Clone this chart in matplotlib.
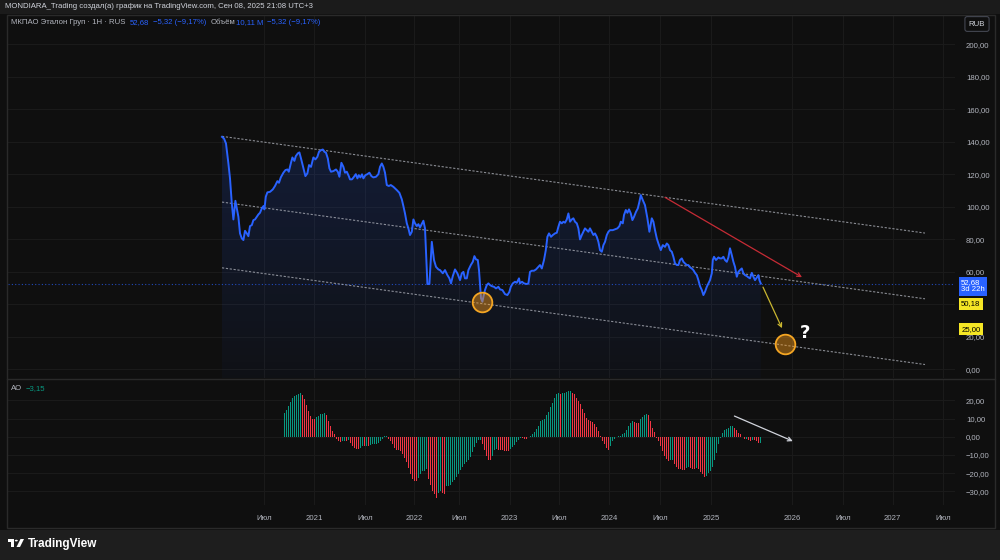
import numpy as np
import matplotlib.pyplot as plt
from matplotlib import transforms
from matplotlib.patches import Rectangle, Polygon, Circle
from matplotlib.lines import Line2D

plt.rcParams['font.family'] = ['Liberation Sans', 'DejaVu Sans']

# x axis = weekly bar index (bar 0 = first bar on the chart)
price_x = [
    0.0, 1.0, 2.0, 3.2, 4.0, 4.9, 5.7, 6.2, 6.7, 7.4,
    8.2, 9.0, 9.9, 10.7, 11.5, 12.4, 13.2, 14.0, 14.9, 15.7,
    16.5, 17.4, 18.2, 19.0, 19.9, 20.7, 21.2, 21.9, 22.7, 24.0,
    25.4, 26.5, 27.7, 28.5, 29.4, 30.7, 31.7, 32.7, 33.4, 34.4,
    35.2, 36.2, 36.9, 37.9, 38.7, 39.5, 40.7, 41.7, 42.7, 43.5,
    44.5, 45.7, 46.7, 47.7, 48.5, 49.5, 50.4, 51.2, 52.0, 52.9,
    53.7, 54.5, 55.7, 57.0, 57.9, 58.7, 59.7, 60.7, 61.5, 62.4,
    63.4, 64.0, 65.0, 66.0, 66.9, 67.7, 68.4, 69.2, 70.0, 70.7,
    71.7, 72.7, 73.7, 74.7, 75.7, 77.0, 78.2, 79.0, 79.9, 80.7,
    81.5, 82.4, 83.4, 84.4, 85.7, 87.4, 88.7, 89.9, 90.7, 91.5,
    92.4, 93.2, 94.0, 94.9, 95.7, 96.5, 97.4, 98.2, 99.0, 100.7,
    101.5, 102.7, 103.7, 104.9, 106.0, 107.0, 108.2, 109.0, 110.4, 111.5,
    112.7, 113.7, 114.5, 115.4, 116.5, 117.7, 119.0, 119.9, 120.7, 121.5,
    122.4, 123.2, 124.4, 125.4, 126.2, 127.0, 127.9, 128.5, 129.0, 129.5,
    130.2, 130.7, 131.5, 132.4, 133.2, 134.0, 134.9, 136.0, 137.0, 138.2,
    139.0, 140.2, 141.5, 142.7, 143.7, 144.4, 145.4, 146.5, 147.4, 148.5,
    149.0, 150.0, 151.0, 152.4, 153.2, 154.0, 154.9, 156.0, 157.0, 158.2,
    159.0, 159.9, 161.0, 161.9, 162.7, 163.5, 164.5, 165.4, 166.5, 167.4,
    168.2, 169.0, 169.9, 170.7, 171.5, 172.4, 173.2, 174.0, 174.9, 175.7,
    176.5, 177.4, 178.2, 179.0, 179.9, 180.7, 181.5, 182.4, 183.2, 184.0,
    184.9, 185.7, 186.5, 187.4, 188.2, 189.0, 189.9, 190.7, 191.5, 192.4,
    193.2, 194.0, 195.4, 196.5, 197.7, 198.7, 199.4, 200.4, 201.0, 201.9,
    202.7, 203.5, 204.4, 205.2, 206.0, 207.0, 207.9, 208.7, 209.4, 210.4,
    211.5, 212.7, 213.7, 214.9, 215.7, 216.5, 217.4, 218.2, 219.4, 220.4,
    221.5, 222.4, 223.2, 224.0, 224.9, 225.7, 226.5, 227.4, 228.2, 229.0,
    229.9, 230.7, 231.5, 232.4, 233.2, 234.0, 234.9, 235.7, 236.5, 237.4,
    238.2, 239.0, 239.9, 240.7, 241.5, 242.4, 243.2, 244.0, 244.9, 245.4,
    246.0, 247.0, 248.2, 249.0, 249.9, 250.7, 251.5, 252.4, 253.2, 254.0,
    254.9, 255.7, 256.5, 257.4, 258.2, 259.0, 259.9, 260.7, 261.5, 262.4,
    263.2, 264.0, 264.9, 265.7, 266.5, 267.4, 268.2, 268.7, 269.4,
]
price_y = [
    143.1, 142.1, 139.0, 126.7, 117.5, 102.0, 92.2, 98.0, 103.7, 99.0,
    93.8, 83.6, 80.5, 79.5, 85.2, 83.6, 81.9, 88.1, 88.7, 91.8,
    92.2, 93.8, 95.3, 96.3, 99.0, 100.4, 98.4, 106.2, 108.9, 109.2,
    110.7, 112.8, 115.8, 114.8, 118.1, 121.0, 122.6, 123.0, 121.6, 126.7,
    130.4, 128.3, 131.2, 132.9, 133.5, 129.8, 123.7, 118.9, 120.6, 125.7,
    124.6, 130.4, 129.2, 130.8, 133.9, 134.9, 135.3, 133.9, 133.3, 129.8,
    123.7, 121.6, 122.0, 123.0, 121.6, 118.5, 127.1, 124.6, 121.0, 121.6,
    118.9, 116.9, 116.9, 118.5, 120.1, 117.5, 119.5, 118.1, 120.0, 117.5,
    119.5, 120.1, 121.0, 118.9, 118.1, 118.5, 120.1, 124.6, 126.7, 124.6,
    121.0, 113.4, 112.8, 113.4, 112.3, 110.3, 108.6, 104.6, 100.4, 95.9,
    89.8, 86.7, 82.6, 84.6, 92.2, 89.8, 88.1, 89.3, 87.3, 91.4,
    86.7, 52.4, 52.4, 78.4, 67.2, 63.0, 61.4, 61.0, 59.0, 61.0,
    57.9, 55.9, 52.8, 57.3, 61.4, 59.0, 54.8, 59.0, 59.9, 55.9,
    55.9, 61.0, 64.1, 66.1, 69.6, 67.6, 67.2, 61.0, 51.8, 43.6,
    41.5, 44.5, 48.7, 51.8, 52.8, 51.8, 51.1, 50.7, 49.7, 50.7,
    49.1, 48.7, 46.2, 45.6, 47.6, 50.7, 52.8, 53.8, 53.2, 55.9,
    52.8, 53.8, 52.8, 52.4, 52.8, 59.9, 60.6, 60.6, 61.4, 63.0,
    64.1, 62.0, 67.2, 73.3, 81.5, 83.6, 81.5, 82.6, 83.6, 84.0,
    87.7, 90.8, 89.8, 90.8, 90.2, 92.2, 95.9, 90.8, 92.2, 92.9,
    90.8, 89.8, 86.7, 79.9, 82.6, 84.6, 86.7, 85.6, 84.6, 86.7,
    84.6, 82.6, 83.6, 81.5, 78.4, 73.3, 72.3, 76.4, 78.4, 82.6,
    84.6, 85.6, 85.6, 86.1, 86.7, 88.1, 90.8, 89.8, 94.9, 98.0,
    96.3, 98.4, 95.9, 91.8, 93.8, 96.9, 99.0, 103.1, 107.2, 104.1,
    101.0, 92.9, 84.6, 92.9, 90.8, 85.6, 80.5, 77.4, 73.3, 76.4,
    75.3, 77.4, 76.4, 73.3, 72.3, 69.2, 65.1, 64.1, 64.1, 67.2,
    68.2, 66.1, 65.1, 64.1, 64.1, 62.7, 62.0, 61.0, 59.3, 57.9,
    54.8, 51.1, 48.7, 45.6, 47.6, 50.7, 52.8, 54.8, 59.0, 67.2,
    69.2, 67.2, 68.8, 68.2, 68.2, 69.2, 67.2, 66.1, 68.8, 74.4,
    70.2, 66.1, 63.0, 56.9, 59.9, 61.0, 62.0, 59.0, 57.9, 57.3,
    56.5, 55.9, 59.3, 56.9, 54.8, 56.5, 57.9, 54.8, 52.68,
]
last_price = 52.68

# Awesome Oscillator, one value per weekly bar starting at ao_start
ao_start = 31.4
ao_values = [
    13.2, 14.7, 16.8, 19.0, 21.4, 22.3, 22.9, 23.6, 24.2,
    22.7, 20.5, 17.4, 13.9, 11.4, 10.0, 9.9,
    11.0, 11.4, 12.3, 12.6, 12.8,
    11.9, 8.6, 5.9, 3.1, 1.3, -1.1, -2.4, -2.7,
    -2.4, -2.3, -2.5, -2.0,
    -3.3, -4.8, -6.0, -6.6, -6.7, -6.0, -5.2, -5.3, -4.8, -5.0,
    -4.4, -4.2, -3.9, -3.7, -3.3, -2.4, -1.1, 0.4, 0.7,
    -1.1, -2.4, -4.2, -6.0, -7.0, -7.3, -7.9, -9.7, -11.5, -13.9,
    -17.0, -20.7, -23.4, -24.4, -24.5,
    -22.5, -20.7, -18.9, -18.7, -17.9,
    -23.4, -26.7, -29.9, -31.7, -33.5, -30.8, -30.0, -31.0, -31.5,
    -27.1, -26.8, -26.4, -25.0, -23.5, -22.0, -20.3, -18.5, -16.5,
    -15.0, -14.0, -12.8, -11.0, -8.5, -5.5, -3.2, -1.8, -1.5,
    -3.7, -7.0, -10.6, -12.5, -12.6,
    -10.6, -7.0, -6.9, -7.0, -7.1, -7.3, -7.6, -7.9, -8.0,
    -6.5, -5.5, -4.3, -3.0, -1.5, -0.6, -0.8, -1.1, -1.3, -0.2,
    0.5, 1.5, 2.6, 4.4, 6.2, 8.6, 9.2, 9.9, 11.7, 13.7,
    16.1, 18.7, 21.4, 23.3, 23.8, 23.3,
    24.2, 24.3, 24.5, 24.9, 25.3,
    24.2, 23.3, 21.4, 19.6, 17.8, 15.4, 13.2, 10.4, 9.2, 8.6,
    8.1, 6.8, 5.5, 3.1, 0.7, -2.4, -4.2, -6.0, -7.0,
    -5.1, -2.4, -1.1, 0.0, 0.4, 0.7, 1.3, 2.2, 3.7, 5.9, 7.7, 8.6,
    8.0, 7.7, 7.3,
    9.5, 11.0, 12.1, 12.3,
    12.1, 8.6, 4.9, 2.6, -0.5, -2.4, -5.1, -7.9, -10.3, -12.1, -13.4,
    -13.0, -12.8,
    -15.2, -16.5, -17.6, -17.9, -18.0, -18.1,
    -17.0, -16.5,
    -17.0, -17.5, -17.6,
    -17.0,
    -17.9, -19.4, -20.7, -22.0,
    -21.5, -20.0, -18.9, -16.5, -12.5, -8.8, -4.2, -0.5, 2.2, 4.0,
    4.4, 4.9, 5.9, 6.2,
    4.9, 3.7, 2.2, 1.3, 0.0, -1.1,
    -1.0,
    -1.5, -2.4,
    -1.8,
    -2.0, -2.2, -3.4,
    -3.15,
]

# time axis
tick_pos = [20.9, 46.2, 71.4, 96.2, 118.4, 143.8, 168.6, 193.5, 218.9, 244.7,
            285.0, 310.7, 335.3, 360.7]
tick_labels = ['Июл', '2021', 'Июл', '2022', 'Июл', '2023', 'Июл', '2024', 'Июл',
               '2025', '2026', 'Июл', '2027', 'Июл']
price_ticks = [0, 20, 40, 60, 80, 100, 120, 140, 160, 180, 200]
hidden_price_ticks = [40]   # covered by the 50,18 scale label
ao_ticks = [-30, -20, -10, 0, 10, 20]

# drawings: parallel channel, arrows, touch points
channel_x = [0, 351.5]
channel_top = [143.4, 83.8]
channel_mid = [102.9, 43.3]
channel_low = [62.4, 2.8]
touch_x = [130, 281.5]
touch_y = [41.3, 15.4]

BG = '#0f0f0f'
GRID = '#1b1b1b'
TXT = '#b2b5be'
BLUE = '#2962ff'
UP = '#089981'
DOWN = '#f23645'
FS = 5.6


def fmt(v):
    return f'{v:.2f}'.replace('.', ',').replace('-', '\u2212')


fig = plt.figure(figsize=(10, 5.6), dpi=100, facecolor=BG)

# header and footer bands
fig.add_artist(Rectangle((0, 1 - 14 / 560), 1, 14 / 560, transform=fig.transFigure,
                         fc='#1b1b1b', ec='none', zorder=0))
fig.add_artist(Rectangle((0, 0), 1, 30 / 560, transform=fig.transFigure,
                         fc='#1e1e1e', ec='none', zorder=0))
fig.add_artist(Rectangle((7 / 1000, 1 - 528 / 560), 988 / 1000, 513 / 560,
                         transform=fig.transFigure, fill=False, ec='#2a2a2a', lw=1))

ax = fig.add_axes([0.008, 0.325, 0.947, 0.648])
ax2 = fig.add_axes([0.008, 0.0982, 0.947, 0.2232])

for a in (ax, ax2):
    a.set_facecolor(BG)
    for s in a.spines.values():
        s.set_visible(False)
    a.set_xlim(-107, 366.5)
    a.set_xticks(tick_pos)
    a.yaxis.tick_right()
    a.grid(True, color=GRID, lw=0.7)
    a.set_axisbelow(True)
    a.tick_params(length=0, labelsize=FS, labelcolor=TXT)

# ---- price panel
ax.set_ylim(-5.5, 218.1)
ax.set_yticks(price_ticks, ['' if v in hidden_price_ticks else fmt(v) for v in price_ticks])
ax.tick_params(axis='y', pad=8)
ax.tick_params(axis='x', labelbottom=False)

ylo = -5.5
fill = ax.fill_between(price_x, price_y, ylo, facecolor='none', edgecolor='none')
grad = np.zeros((256, 1, 4))
grad[:, 0, :3] = (0.161, 0.384, 1.0)
grad[:, 0, 3] = np.linspace(0.03, 0.17, 256)
im = ax.imshow(grad, extent=[price_x[0], price_x[-1], ylo, max(price_y)],
               origin='lower', aspect='auto', zorder=1)
im.set_clip_path(fill.get_paths()[0], ax.transData)
ax.set_xlim(-107, 366.5)
ax.set_ylim(-5.5, 218.1)

ax.axhline(last_price, color=BLUE, lw=0.8, ls=(0, (1, 2)), alpha=0.7, zorder=2)
for ch in (channel_top, channel_mid, channel_low):
    ax.plot(channel_x, ch, color='#b2b5be', lw=0.8, ls=(0, (2, 1.5)), alpha=0.75, zorder=3)
ax.plot(price_x, price_y, color=BLUE, lw=1.4, zorder=4)

ax.annotate('', xy=(290, 56.6), xytext=(221.5, 105.8),
            arrowprops=dict(arrowstyle='->', color='#c62b35', lw=0.9,
                            shrinkA=0, shrinkB=0, mutation_scale=7), zorder=5)
ax.annotate('', xy=(280, 25.2), xytext=(270.5, 50.5),
            arrowprops=dict(arrowstyle='->', color='#c9b630', lw=0.9,
                            shrinkA=0, shrinkB=0, mutation_scale=7), zorder=5)
ax.scatter(touch_x, touch_y, s=200, facecolor=(0.96, 0.6, 0.1, 0.45),
           edgecolor='#f5a623', lw=1.3, zorder=6)
ax.text(291.5, 22.2, '?', color='white', fontsize=13, weight='bold',
        family='DejaVu Sans', ha='center', va='center', zorder=7)

# labels on the price scale
st = transforms.blended_transform_factory(ax.transAxes, ax.transData)
ax.text(1.0065, 55.2, '52,68\n3d 22h', transform=st, va='top', ha='left', fontsize=FS,
        color='white', linespacing=1.0, clip_on=False,
        bbox=dict(boxstyle='square,pad=0.3', fc=BLUE, ec='none'))
ax.text(1.0065, 40.2, '50,18', transform=st, va='center', ha='left', fontsize=FS,
        color='black', clip_on=False,
        bbox=dict(boxstyle='square,pad=0.3', fc='#f5e625', ec='none'))
ax.text(1.0065, 24.6, '25,00', transform=st, va='center', ha='left', fontsize=FS,
        color='black', clip_on=False,
        bbox=dict(boxstyle='square,pad=0.3', fc='#f5e625', ec='none'))

# ---- AO panel
ao_x = ao_start + np.arange(len(ao_values))
ao_arr = np.array(ao_values)
rising = np.concatenate([[True], np.diff(ao_arr) >= 0])
ax2.bar(ao_x, ao_arr, width=0.62, color=np.where(rising, UP, DOWN), linewidth=0, zorder=3)
ax2.set_ylim(-37.5, 31.2)
ax2.set_yticks(ao_ticks, [fmt(v) for v in ao_ticks])
ax2.tick_params(axis='y', pad=8)
ax2.set_xticks(tick_pos, tick_labels)
ax2.tick_params(axis='x', pad=7)
ax2.annotate('', xy=(285.4, -2.4), xytext=(256.2, 11.4),
             arrowprops=dict(arrowstyle='->', color='#d1d4dc', lw=0.9,
                             shrinkA=0, shrinkB=0, mutation_scale=7), zorder=5)

fig.add_artist(Line2D([0.007, 0.995], [1 - 379 / 560] * 2, transform=fig.transFigure,
                      color='#2a2a2a', lw=1))

# ---- texts
fig.text(0.005, 1 - 7 / 560, 'MONDIARA_Trading создал(а) график на TradingView.com, '
         'Сен 08, 2025 21:08 UTC+3', fontsize=FS, color='#d1d4dc', va='center')

renderer = fig.canvas.get_renderer()


def chain(pieces, x0, y, gap):
    x = x0
    for s, c in pieces:
        t = fig.text(x / 1000, 1 - y / 560, s, fontsize=FS, color=c, va='center')
        x = t.get_window_extent(renderer).x1 + gap


chain([('МКПАО Эталон Груп · 1Н · RUS', TXT), ('52,68', BLUE),
       ('\u22125,32 (\u22129,17%)', BLUE), ('Объём', TXT)], 11, 23, 4)
legend_rest = fig.texts[-1].get_window_extent(renderer).x1 + 1
chain([('10,11 M', BLUE), ('\u22125,32 (\u22129,17%)', BLUE)], legend_rest, 23, 4)
chain([('AO', TXT), ('\u22123,15', UP)], 11, 389, 4)

fig.text(977 / 1000, 1 - 24 / 560, 'RUB', fontsize=FS, color='#d1d4dc', ha='center',
         va='center', bbox=dict(boxstyle='round,pad=0.5,rounding_size=0.3',
                                fc=BG, ec='#434651', lw=0.8))


# TradingView logo
def fp(px, py):
    return (px / 1000, 1 - py / 560)


fig.add_artist(Polygon([fp(7.5, 539), fp(14, 539), fp(14, 547), fp(11, 547), fp(11, 541.7),
                        fp(7.5, 541.7)], closed=True, transform=fig.transFigure,
                       fc='white', ec='none'))
fig.add_artist(Circle(fp(16.3, 540.6), 1.5 / 1000, transform=fig.transFigure,
                      fc='white', ec='none'))
fig.add_artist(Polygon([fp(20.5, 539), fp(24, 539), fp(20, 547), fp(16.5, 547)], closed=True,
                       transform=fig.transFigure, fc='white', ec='none'))
fig.text(28 / 1000, 1 - 543.5 / 560, 'TradingView', fontsize=8.5, weight='bold',
         family='Liberation Sans', color='white', va='center')

fig.savefig('out.png', dpi=100, facecolor=BG)
